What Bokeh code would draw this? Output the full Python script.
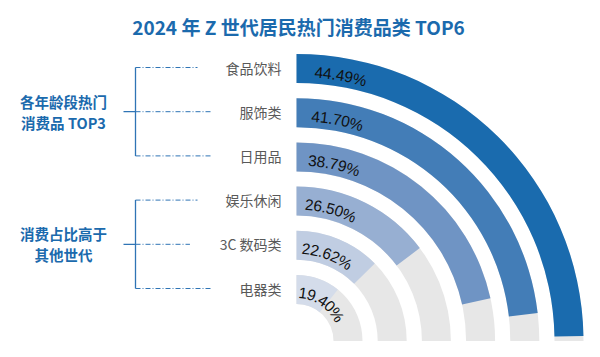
import math
from bokeh.plotting import figure
from bokeh.models import Range1d, ColumnDataSource
from bokeh.core.properties import value
from bokeh.embed import file_html
from bokeh.resources import INLINE

# ---------------- data ----------------
title_text = "2024 年 Z 世代居民热门消费品类 TOP6"
categories = ["食品饮料", "服饰类", "日用品", "娱乐休闲", "3C 数码类", "电器类"]
shares = [44.49, 41.70, 38.79, 26.50, 22.62, 19.40]
share_labels = ["44.49%", "41.70%", "38.79%", "26.50%", "22.62%", "19.40%"]
ring_colors = ["#1a6bae", "#437db7", "#6f94c4", "#97afd2", "#c0cde2", "#d4dcea"]
group_labels = [["各年龄段热门", "消费品 TOP3"], ["消费占比高于", "其他世代"]]
group_rows = [[0, 1, 2], [3, 4, 5]]
scale_max = 45.0  # percent mapped to a quarter circle

# ---------------- layout ----------------
W, H = 584, 341
cx, cy = 296, 0.5
r0, pitch, band = 37.0, 44.2, 29.0
BLUE = "#1b6aad"
CJK = "Noto Sans CJK SC"

p = figure(width=W, height=H, x_range=Range1d(0, W), y_range=Range1d(0, H),
           output_backend="svg", toolbar_location=None, min_border=0,
           x_axis_location=None, y_axis_location=None)
p.grid.visible = False
p.outline_line_color = None
p.background_fill_color = "white"

n = len(categories)
inner = [r0 + pitch * (n - 1 - i) for i in range(n)]
outer = [r + band for r in inner]
mid = [(a + b) / 2 for a, b in zip(inner, outer)]
start = [90 - s / scale_max * 90 for s in shares]

# grey tracks
p.annular_wedge(x=[cx] * n, y=[cy] * n, inner_radius=inner, outer_radius=outer,
                start_angle=[0] * n, end_angle=[90] * n, start_angle_units="deg",
                end_angle_units="deg", fill_color="#e7e7e7", line_color=None)
# value bars
src = ColumnDataSource(dict(x=[cx] * n, y=[cy] * n, ir=inner, or_=outer,
                            sa=start, ea=[90] * n, c=ring_colors))
p.annular_wedge(x="x", y="y", inner_radius="ir", outer_radius="or_",
                start_angle="sa", end_angle="ea", start_angle_units="deg",
                end_angle_units="deg", fill_color="c", line_color=None, source=src)

# curved percentage labels (character by character along the arc)
fs = 15.5
cw = {".": 0.278, "%": 0.889}
chx, chy, cht, cha = [], [], [], []
for i, lab in enumerate(share_labels):
    rt = mid[i] - 3.5
    widths = [cw.get(ch, 0.556) * fs for ch in lab]
    total = sum(widths)
    sc = 28.4 + 0.0724 * (mid[i] - 51.5)
    s = sc - total / 2
    for ch, w in zip(lab, widths):
        phi = (s + w / 2) / rt
        chx.append(cx + rt * math.sin(phi))
        chy.append(cy + rt * math.cos(phi))
        cht.append(ch)
        cha.append(-phi)
        s += w
p.text(x=chx, y=chy, text=cht, angle=cha, text_font=value("Liberation Sans"),
       text_font_size="15.5px", text_color="#111111", text_align="center",
       text_baseline="middle")

# category labels
lab_x = 281
lab_y = [cy + m + 1 for m in mid]
p.text(x=[lab_x] * n, y=lab_y, text=categories, text_font=value(CJK),
       text_font_size="14px", text_color="#595959", text_align="right",
       text_baseline="middle")


def est_width(t, f):
    w = 0
    for ch in t:
        if ord(ch) > 0x2E80:
            w += f
        elif ch == " ":
            w += 0.3 * f
        else:
            w += 0.62 * f
    return w


# brackets
vx = 135
for g, rows in enumerate(group_rows):
    ys = [lab_y[r] for r in rows]
    p.line(x=[vx, vx], y=[max(ys), min(ys)], line_color="#2f74b5", line_width=1.3)
    ymid = ys[len(ys) // 2]
    p.line(x=[vx - 12, vx], y=[ymid, ymid], line_color="#2f74b5", line_width=1.3)
    for r in rows:
        xe = lab_x - est_width(categories[r], 14) - 28
        p.line(x=[vx, xe], y=[lab_y[r], lab_y[r]], line_color="#2f74b5",
               line_width=1, line_dash="5 2 1 2")
    lines = group_labels[g]
    p.text(x=[63, 63], y=[ymid + 10.5, ymid - 10.5], text=lines,
           text_font=value(CJK), text_font_size="14.5px", text_font_style="bold",
           text_color=BLUE, text_align="center", text_baseline="middle")

# title
p.text(x=[298], y=[315], text=[title_text], text_font=value(CJK),
       text_font_size="19px", text_font_style="bold", text_color=BLUE,
       text_align="center", text_baseline="middle")

open("out.html", "w").write(file_html(p, INLINE))
